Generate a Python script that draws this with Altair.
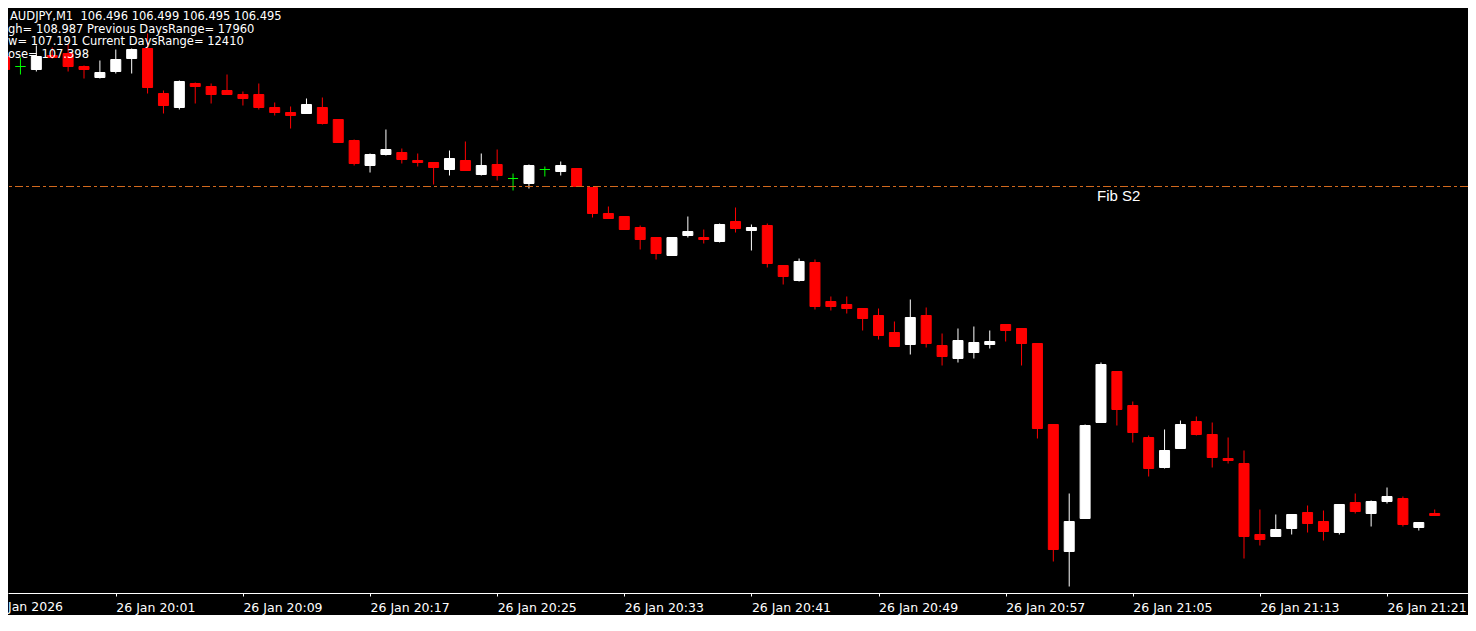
import altair as alt
import pandas as pd

# ---------------- data ----------------
header_lines = [
    "AUDJPY,M1\u00a0\u00a0106.496 106.499 106.495 106.495",
    "gh= 108.987 Previous DaysRange= 17960",
    "w= 107.191 Current DaysRange= 12410",
    "ose= 107.398",
]
first_bar = "2026-01-26 19:54"
date_label = "Jan 2026"
fib_level = 106.824
fib_label = "Fib S2"
tick_times = ["20:01", "20:09", "20:17", "20:25", "20:33", "20:41",
              "20:49", "20:57", "21:05", "21:13", "21:21"]

opens = [106.954, 106.944, 106.941, 106.955, 106.957, 106.944, 106.933, 106.939, 106.952, 106.962,
         106.917, 106.903, 106.927, 106.924, 106.920, 106.916, 106.916, 106.903, 106.898, 106.897,
         106.903, 106.891, 106.870, 106.845, 106.856, 106.858, 106.850, 106.848, 106.841, 106.850,
         106.836, 106.846, 106.832, 106.827, 106.841, 106.839, 106.842, 106.823, 106.797, 106.794,
         106.783, 106.773, 106.755, 106.775, 106.773, 106.769, 106.789, 106.780, 106.785, 106.745,
         106.730, 106.748, 106.709, 106.706, 106.702, 106.695, 106.678, 106.666, 106.695, 106.665,
         106.652, 106.658, 106.666, 106.686, 106.682, 106.667, 106.586, 106.459, 106.492, 106.588,
         106.639, 106.605, 106.573, 106.543, 106.562, 106.589, 106.576, 106.552, 106.547, 106.476,
         106.474, 106.482, 106.498, 106.489, 106.478, 106.508, 106.497, 106.509, 106.512, 106.483,
         106.497]
highs = [106.956, 106.953, 106.965, 106.963, 106.966, 106.945, 106.950, 106.961, 106.962, 106.977,
         106.920, 106.930, 106.928, 106.927, 106.936, 106.919, 106.927, 106.908, 106.904, 106.912,
         106.913, 106.891, 106.871, 106.857, 106.881, 106.862, 106.857, 106.848, 106.860, 106.869,
         106.857, 106.861, 106.837, 106.846, 106.844, 106.849, 106.842, 106.823, 106.804, 106.794,
         106.785, 106.773, 106.773, 106.794, 106.781, 106.787, 106.803, 106.786, 106.787, 106.745,
         106.752, 106.751, 106.714, 106.714, 106.702, 106.702, 106.689, 106.711, 106.703, 106.677,
         106.682, 106.684, 106.680, 106.686, 106.682, 106.667, 106.586, 106.517, 106.586, 106.648,
         106.639, 106.609, 106.575, 106.581, 106.590, 106.594, 106.588, 106.573, 106.560, 106.501,
         106.496, 106.496, 106.505, 106.500, 106.506, 106.517, 106.510, 106.523, 106.514, 106.488,
         106.501]
lows = [106.939, 106.936, 106.939, 106.952, 106.939, 106.932, 106.932, 106.937, 106.937, 106.917,
        106.897, 106.901, 106.907, 106.907, 106.916, 106.905, 106.901, 106.895, 106.882, 106.897,
        106.886, 106.868, 106.845, 106.838, 106.855, 106.847, 106.844, 106.826, 106.835, 106.840,
        106.835, 106.830, 106.820, 106.822, 106.834, 106.835, 106.824, 106.793, 106.792, 106.781,
        106.761, 106.751, 106.755, 106.773, 106.767, 106.768, 106.778, 106.760, 106.743, 106.726,
        106.729, 106.701, 106.700, 106.697, 106.680, 106.671, 106.664, 106.656, 106.663, 106.645,
        106.648, 106.652, 106.662, 106.669, 106.645, 106.572, 106.449, 106.424, 106.492, 106.588,
        106.585, 106.568, 106.534, 106.542, 106.562, 106.575, 106.543, 106.547, 106.452, 106.465,
        106.474, 106.476, 106.478, 106.470, 106.476, 106.497, 106.484, 106.507, 106.484, 106.480,
        106.495]
closes = [106.941, 106.944, 106.954, 106.953, 106.944, 106.941, 106.938, 106.951, 106.961, 106.923,
          106.905, 106.929, 106.924, 106.916, 106.916, 106.912, 106.903, 106.898, 106.895, 106.906,
          106.887, 106.868, 106.847, 106.856, 106.861, 106.851, 106.848, 106.843, 106.852, 106.840,
          106.845, 106.835, 106.832, 106.845, 106.841, 106.845, 106.824, 106.797, 106.792, 106.781,
          106.771, 106.757, 106.773, 106.779, 106.771, 106.786, 106.782, 106.783, 106.747, 106.734,
          106.749, 106.704, 106.704, 106.702, 106.692, 106.675, 106.664, 106.693, 106.667, 106.654,
          106.670, 106.668, 106.669, 106.680, 106.667, 106.582, 106.461, 106.489, 106.585, 106.646,
          106.601, 106.578, 106.542, 106.560, 106.586, 106.576, 106.553, 106.550, 106.474, 106.471,
          106.481, 106.496, 106.487, 106.479, 106.506, 106.499, 106.509, 106.514, 106.486, 106.488,
          106.495]

# ---------------- table ----------------
times = pd.date_range(first_bar, periods=len(opens), freq="min")
df = pd.DataFrame({
    "time": times.strftime("%Y-%m-%dT%H:%M:%S"),
    "open": opens, "high": highs, "low": lows, "close": closes,
})
df["dir"] = ["up" if c > o else ("down" if c < o else "doji") for o, c in zip(opens, closes)]

FONT = "DejaVu Sans"


def dt(h, m, s=0, ms=0):
    return alt.DateTime(year=2026, month=1, date=26, hours=h, minutes=m, seconds=s, milliseconds=ms)


x_scale = alt.Scale(domain=[dt(19, 54, 31, 875), dt(21, 25, 46, 875)], nice=False)
x_axis = alt.Axis(
    values=[dt(int(t[:2]), int(t[3:])) for t in tick_times],
    format="%d %b %H:%M", title=None, grid=False,
    labelColor="white", labelFont=FONT, labelFontSize=12.5,
    labelAlign="left", labelBaseline="alphabetic", labelPadding=15,
    labelFlush=False, labelOverlap=False,
    tickColor="white", tickSize=3, tickWidth=1,
    domainColor="white", domainWidth=1,
)
x_enc = alt.X("time:T", scale=x_scale, axis=x_axis)
y_scale = alt.Scale(domain=[106.4175, 107.0025], nice=False, zero=False)
c_scale = alt.Scale(domain=["up", "down", "doji"], range=["#FFFFFF", "#FF0000", "#00FF00"])

wicks = alt.Chart(df).mark_rule(strokeWidth=1).encode(
    x=x_enc,
    y=alt.Y("low:Q", scale=y_scale, axis=None),
    y2="high:Q",
    color=alt.Color("dir:N", scale=c_scale, legend=None),
)

bodies = alt.Chart(df).mark_bar(width=10, strokeWidth=1).encode(
    x=x_enc,
    y=alt.Y("open:Q", scale=y_scale, axis=None),
    y2="close:Q",
    fill=alt.Fill("dir:N", scale=c_scale, legend=None),
    stroke=alt.Stroke("dir:N", scale=c_scale, legend=None),
)

fib_df = pd.DataFrame({"level": [fib_level], "label": [fib_label]})
fib_line = alt.Chart(fib_df).mark_rule(color="#D2691E", strokeWidth=1, strokeDash=[8, 3, 3, 3]).encode(
    y=alt.Y("level:Q", scale=y_scale, axis=None)
)
fib_text = alt.Chart(fib_df).mark_text(
    color="white", font="Liberation Sans", fontSize=15, align="left", baseline="alphabetic", dy=14.5
).encode(
    text="label:N",
    x=alt.value(1089),
    y=alt.Y("level:Q", scale=y_scale, axis=None),
)

header_layers = []
for i, line in enumerate(header_lines):
    header_layers.append(
        alt.Chart(pd.DataFrame({"t": [line]})).mark_text(
            color="white", font=FONT, fontSize=11.5, align="left", baseline="alphabetic"
        ).encode(text="t:N", x=alt.value(2 if i == 0 else 0), y=alt.value(12 + 12.5 * i))
    )

left_date = alt.Chart(pd.DataFrame({"t": [date_label]})).mark_text(
    color="white", font=FONT, fontSize=12.5, align="left", baseline="alphabetic"
).encode(text="t:N", x=alt.value(0), y=alt.value(603))

chart = alt.layer(wicks, bodies, fib_line, fib_text, *header_layers, left_date).properties(
    width=1460, height=585, background="black",
    autosize=alt.AutoSizeParams(type="none"),
    padding={"left": 0, "top": 0, "right": 0, "bottom": 22},
).configure_view(stroke=None)

chart.save("out.html", embed_options={"renderer": "svg", "actions": False})
